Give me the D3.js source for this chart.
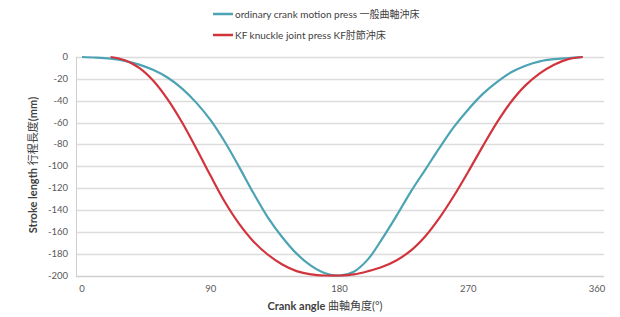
<!DOCTYPE html>
<html>
<head>
<meta charset="utf-8">
<script src="https://cdn.jsdelivr.net/npm/d3@7"></script>
<style>
  body { margin: 0; background: #fff; }
  svg { display: block; font-family: Lato, "Noto Sans CJK TC", sans-serif; }
</style>
</head>
<body>
<div id="chart"></div>
<script>
/* stroke curves, crank vs knuckle press */
const width = 620, height = 317;

const angles = d3.range(0, 360, 10);
// ordinary crank motion press
const crankStroke = [0, -0.5, -1.5, -3.5, -7, -12, -19, -29, -42, -58, -78, -101, -125, -147, -165, -180, -191, -198,
    -200, -196.5, -185, -166, -145, -123, -103, -83, -64, -48, -34, -23, -14, -8, -4, -2, -1, 0];
// KF knuckle joint press (starts at 20)
const knuckleStroke = [null, null, 0, -3, -10, -22, -39, -60, -84, -109, -133, -153, -169, -181, -190, -196, -199, -200,
    -200, -199, -196, -192, -186, -177, -164, -147, -127, -105, -82, -60, -41, -26, -15, -7, -2, 0];

const xTicks = [0, 90, 180, 270, 360];
const yTicks = d3.range(0, -201, -20);

const seriesNames = ["ordinary crank motion press 一般曲軸沖床", "KF knuckle joint press KF肘節沖床"];
const colors = ["#4ba3b4", "#d2343d"];

const svg = d3.select("#chart")
    .append("svg")
    .attr("width", width)
    .attr("height", height);

let x = d3.scaleLinear()
    .domain([0, 360])
    .range([82, 597]);

let y = d3.scaleLinear()
    .domain([-200, 0])
    .range([275.5, 57]);

// gridlines
svg.append("g")
    .selectAll("line")
    .data(yTicks)
    .join("line")
    .attr("x1", 76)
    .attr("x2", 604)
    .attr("y1", d => Math.round(y(d)) + 0.5)
    .attr("y2", d => Math.round(y(d)) + 0.5)
    .attr("stroke", d => d === -200 ? "#cfcfcf" : "#dcdcdc")
    .attr("stroke-width", 1.3);

svg.append("line")
    .attr("x1", 76.5).attr("x2", 76.5)
    .attr("y1", y(0)).attr("y2", y(-200) + 1)
    .attr("stroke", "#cfcfcf")
    .attr("stroke-width", 1);

// y tick labels
svg.append("g")
    .selectAll("text")
    .data(yTicks)
    .join("text")
    .attr("x", 68)
    .attr("y", d => y(d))
    .attr("dy", "0.32em")
    .attr("text-anchor", "end")
    .attr("font-size", 9.5)
    .attr("fill", "#595959")
    .text(d => d);

// x tick labels
svg.append("g")
    .selectAll("text")
    .data(xTicks)
    .join("text")
    .attr("x", d => x(d))
    .attr("y", 292)
    .attr("text-anchor", "middle")
    .attr("font-size", 9.5)
    .attr("fill", "#595959")
    .text(d => d);

// axis titles
svg.append("text")
    .attr("x", 325)
    .attr("y", 310)
    .attr("text-anchor", "middle")
    .attr("font-size", 11)
    .attr("fill", "#404040")
    .html('<tspan font-weight="bold">Crank angle</tspan> 曲軸角度(°)');

svg.append("text")
    .attr("transform", "translate(37,165) rotate(-90)")
    .attr("text-anchor", "middle")
    .attr("font-size", 11)
    .attr("fill", "#404040")
    .html('<tspan font-weight="bold">Stroke length</tspan> 行程長度<tspan font-weight="bold">(mm)</tspan>');

// lines
let series = [crankStroke, knuckleStroke];

series.forEach((vals, i) => {
    let line = d3.line()
        .defined(d => d[1] !== null)
        .x(d => x(d[0]))
        .y(d => y(d[1]))
        .curve(d3.curveCatmullRom);

    svg.append("path")
        .datum(angles.map((a, j) => [a, vals[j]]))
        .attr("d", line)
        .attr("fill", "none")
        .attr("stroke", colors[i])
        .attr("stroke-width", 2.2);
});

// legend
const legend = svg.append("g")
    .selectAll("g")
    .data(seriesNames)
    .join("g")
    .attr("transform", (d, i) => `translate(213,${14 + i * 21})`);

legend.append("line")
    .attr("x1", 0).attr("x2", 20)
    .attr("stroke", (d, i) => colors[i])
    .attr("stroke-width", 2.5);

legend.append("text")
    .attr("x", 22)
    .attr("dy", "0.35em")
    .attr("font-size", 10)
    .attr("fill", "#404040")
    .text(d => d);
</script>
</body>
</html>
